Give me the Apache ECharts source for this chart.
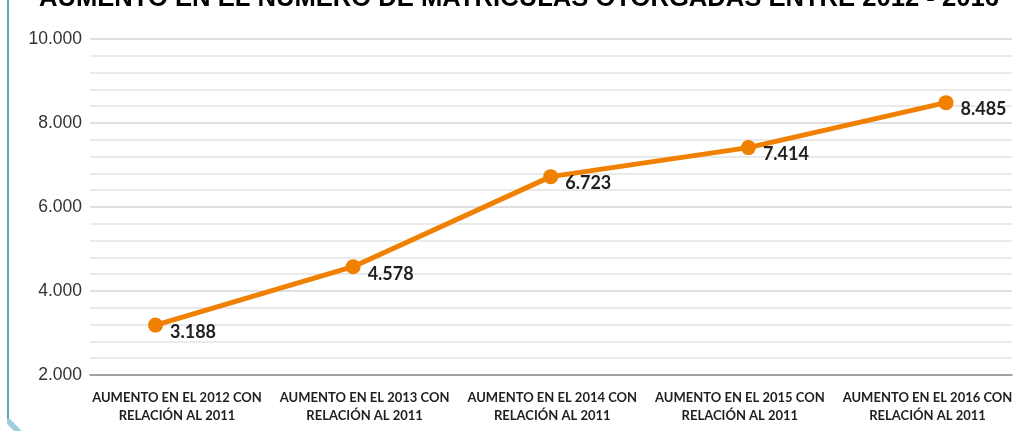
<!DOCTYPE html>
<html>
<head>
<meta charset="utf-8">
<script src="https://cdn.jsdelivr.net/npm/echarts@6/dist/echarts.min.js"></script>
<style>
  html, body { margin: 0; padding: 0; background: #fff; }
  #chart { width: 1018px; height: 431px; }
</style>
</head>
<body>
<div id="chart"></div>
<script>
const titleText = 'AUMENTO EN EL NÚMERO DE MATRÍCULAS OTORGADAS ENTRE 2012 - 2016';
const categories = [
  'AUMENTO EN EL 2012 CON\nRELACIÓN AL 2011',
  'AUMENTO EN EL 2013 CON\nRELACIÓN AL 2011',
  'AUMENTO EN EL 2014 CON\nRELACIÓN AL 2011',
  'AUMENTO EN EL 2015 CON\nRELACIÓN AL 2011',
  'AUMENTO EN EL 2016 CON\nRELACIÓN AL 2011'
];
const values = [3188, 4578, 6723, 7414, 8485];
const yMin = 2000;
const yMax = 10000;
const yStep = 2000;

const fmt = v => String(v).replace(/\B(?=(\d{3})+(?!\d))/g, '.');

const chart = echarts.init(document.getElementById('chart'));

const option = {
  animation: false,
  backgroundColor: '#fff',
  title: {
    text: titleText,
    left: 34,
    top: -19,
    textStyle: {
      fontFamily: 'Liberation Sans',
      fontWeight: 'bold',
      fontSize: 25.6,
      color: '#000'
    }
  },
  graphic: [
    {
      type: 'line',
      shape: { x1: 8, y1: 0, x2: 8, y2: 419 },
      style: { stroke: '#5aa9b4', lineWidth: 2 }
    },
    {
      type: 'polygon',
      shape: { points: [[7, 419], [10, 419], [22, 431], [14, 431], [7, 424]] },
      style: { fill: '#9fd0da' }
    }
  ],
  grid: [
    // background: y labels and gridlines
    { left: 90, right: 6, top: 39, bottom: 56 },
    // category labels
    { left: 177, right: 90.5, top: 39, bottom: 56 },
    // line series
    { left: 155.5, right: 72, top: 39, bottom: 56 }
  ],
  xAxis: [
    {
      gridIndex: 0,
      type: 'category',
      data: categories,
      axisLine: { show: true, lineStyle: { color: '#8c8c8c', width: 1.5 } },
      axisTick: { show: false },
      axisLabel: { show: false }
    },
    {
      gridIndex: 1,
      type: 'category',
      data: categories,
      boundaryGap: false,
      axisLine: { show: false },
      axisTick: { show: false },
      axisLabel: {
        margin: 14,
        interval: 0,
        fontFamily: 'Lato',
        fontWeight: 'bold',
        fontSize: 13,
        lineHeight: 18,
        color: '#1f1f1f'
      }
    },
    {
      gridIndex: 2,
      type: 'category',
      data: categories,
      boundaryGap: false,
      show: false
    }
  ],
  yAxis: [
    {
      gridIndex: 0,
      type: 'value',
      min: yMin,
      max: yMax,
      interval: yStep,
      axisLine: { show: false },
      axisTick: { show: false },
      axisLabel: {
        margin: 8,
        fontFamily: 'Liberation Sans',
        fontSize: 17.5,
        color: '#333',
        formatter: v => fmt(v)
      },
      splitLine: { lineStyle: { color: '#d6d6d6', width: 1.5 } },
      minorTick: { show: false, splitNumber: 5 },
      minorSplitLine: { show: true, lineStyle: { color: '#e4e4e4', width: 1.5 } }
    },
    { gridIndex: 1, type: 'value', min: yMin, max: yMax, show: false, splitLine: { show: false } },
    { gridIndex: 2, type: 'value', min: yMin, max: yMax, show: false, splitLine: { show: false } }
  ],
  series: [
    {
      type: 'line',
      xAxisIndex: 2,
      yAxisIndex: 2,
      data: values,
      lineStyle: { color: '#f08000', width: 5 },
      itemStyle: { color: '#f08000' },
      symbol: 'circle',
      symbolSize: 15,
      label: {
        show: true,
        position: 'right',
        distance: 7,
        offset: [0, 7],
        fontFamily: 'Lato',
        fontWeight: 'bold',
        fontSize: 18,
        color: '#1f1f1f',
        formatter: p => fmt(p.value)
      }
    }
  ]
};

chart.setOption(option);
</script>
</body>
</html>
